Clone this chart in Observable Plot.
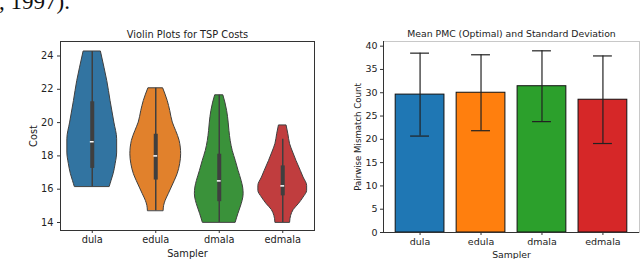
<!DOCTYPE html>
<html><head><meta charset="utf-8">
<script src="https://cdn.jsdelivr.net/npm/d3@7"></script>
<script src="https://cdn.jsdelivr.net/npm/@observablehq/plot@0.6"></script>
<style>
html,body{margin:0;padding:0;background:#fff;}
#wrap{position:relative;width:640px;height:259px;overflow:hidden;}
#left,#right,#cite{position:absolute;top:0;}
#left{left:0}
#right{left:320px}
</style></head><body>
<div id="wrap">
<div id="left"></div><div id="right"></div>
<svg id="cite" width="200" height="20" style="left:0"><text x="-1" y="9" font-family="Liberation Serif" font-size="23" fill="#111">, 1997).</text></svg>
</div>
<script>
const samplers = ["dula", "edula", "dmala", "edmala"];
const violinColors = ["#3274a1", "#e1812c", "#3a923a", "#c03d3e"];
const barColors = ["#1f77b4", "#ff7f0e", "#2ca02c", "#d62728"];

// violin outlines: cost grid and relative density (max = 1)
const dulaCost = [16.15, 16.5, 16.9, 17.5, 18.2, 19.0, 20.0, 21.3, 22.5, 23.3, 24.27];
const dulaDens = [0.69, 0.76, 0.84, 0.92, 0.98, 0.98, 0.87, 0.72, 0.59, 0.48, 0.34];
const edulaCost = [14.7, 15.0, 15.3, 15.7, 16.1, 16.5, 16.9, 17.5, 18.1, 18.9, 19.5, 20.0, 20.7, 21.3, 22.06];
const edulaDens = [0.31, 0.33, 0.39, 0.51, 0.63, 0.75, 0.86, 0.96, 1.0, 0.94, 0.80, 0.67, 0.57, 0.47, 0.29];
const dmalaCost = [14.0, 14.5, 14.9, 15.3, 15.7, 16.1, 16.5, 17.1, 17.7, 18.3, 18.9, 19.5, 20.0, 20.7, 21.2, 21.64];
const dmalaDens = [0.65, 0.75, 0.84, 0.92, 0.96, 0.94, 0.88, 0.76, 0.65, 0.53, 0.45, 0.40, 0.37, 0.31, 0.24, 0.16];
const edmalaCost = [14.0, 14.4, 14.75, 15.1, 15.5, 15.9, 16.2, 16.7, 17.1, 17.7, 18.2, 18.7, 19.3, 19.83];
const edmalaDens = [0.29, 0.33, 0.43, 0.63, 0.82, 0.96, 0.96, 0.82, 0.71, 0.54, 0.41, 0.29, 0.22, 0.15];

// inner box statistics
const whiskerLow = [16.15, 14.7, 14.0, 14.0];
const boxQ1 = [17.25, 16.55, 15.25, 15.6];
const medianCost = [18.85, 18.0, 16.5, 16.2];
const boxQ3 = [21.25, 19.3, 18.1, 17.4];
const whiskerHigh = [24.27, 22.06, 21.64, 19.0];

// bar chart
const pmcMean = [29.6, 30.0, 31.4, 28.5];
const pmcSd = [8.9, 8.15, 7.6, 9.4];

const costTicks = [14, 16, 18, 20, 22, 24];
const pmcTicks = [0, 5, 10, 15, 20, 25, 30, 35, 40];
const samplerIdx = [0, 1, 2, 3];

const leftTitle = "Violin Plots for TSP Costs";
const rightTitle = "Mean PMC (Optimal) and Standard Deviation";
const xLabel = "Sampler";
const leftYLabel = "Cost";
const rightYLabel = "Pairwise Mismatch Count";

const profiles = [[dulaCost, dulaDens], [edulaCost, edulaDens], [dmalaCost, dmalaDens], [edmalaCost, edmalaDens]];
const violinRows = profiles.flatMap(([c, d], i) => c.map((v, j) => ({sampler: samplers[i], i, cost: v, w: d[j]})));
const stats = samplers.map((s, i) => ({sampler: s, i, lo: whiskerLow[i], q1: boxQ1[i], med: medianCost[i], q3: boxQ3[i], hi: whiskerHigh[i]}));
const bars = samplers.map((s, i) => ({sampler: s, i, mean: pmcMean[i], sd: pmcSd[i]}));

const HALF = 0.4;
const txt = "#222";
const style = {fontFamily: "DejaVu Sans", fontSize: "9.8px", color: txt, background: "transparent", overflow: "visible"};

const left = Plot.plot({
  width: 320, height: 259,
  marginLeft: 60, marginRight: 6, marginTop: 41, marginBottom: 29,
  style,
  x: {domain: [-0.5, 3.5], axis: null},
  y: {domain: [13.52, 24.87], axis: null},
  color: {domain: samplers, range: violinColors},
  marks: [
    Plot.areaX(violinRows, {y: "cost", x1: d => d.i - d.w * HALF, x2: d => d.i + d.w * HALF, z: "sampler", fill: "sampler", stroke: "#3f3f3f", strokeWidth: 1, curve: "monotone-y"}),
    Plot.ruleX(stats, {x: "i", y1: "lo", y2: "hi", stroke: "#3f3f3f", strokeWidth: 1.5}),
    Plot.ruleX(stats, {x: "i", y1: "q1", y2: "q3", stroke: "#3f3f3f", strokeWidth: 4}),
    Plot.ruleY(stats, {y: "med", x1: d => d.i - 0.03, x2: d => d.i + 0.03, stroke: "white", strokeWidth: 1.5}),
    Plot.frame({stroke: "#333"}),
    Plot.axisX(samplerIdx, {tickFormat: i => samplers[i], tickSize: 3, tickPadding: 3, label: null, stroke: "#333", fontSize: 9.8}),
    Plot.axisY(costTicks, {tickSize: 3, tickPadding: 4, label: null, stroke: "#333", fontSize: 9.8}),
    Plot.text([leftTitle], {text: d => d, frameAnchor: "top", dy: -7, lineAnchor: "middle", fontSize: 9.8, fill: txt}),
    Plot.text([xLabel], {text: d => d, frameAnchor: "bottom", dy: 23, lineAnchor: "middle", fontSize: 9.8, fill: txt}),
    Plot.text([leftYLabel], {text: d => d, frameAnchor: "left", dx: -27, rotate: -90, textAnchor: "middle", lineAnchor: "middle", fontSize: 9.8, fill: txt})
  ]
});
document.getElementById("left").appendChild(left);

const right = Plot.plot({
  width: 320, height: 259,
  marginLeft: 63, marginRight: 1, marginTop: 41, marginBottom: 27,
  style,
  x: {domain: [-0.6, 3.6], axis: null},
  y: {domain: [0, 41], axis: null},
  color: {domain: samplers, range: barColors},
  marks: [
    Plot.rectY(bars, {x1: d => d.i - 0.4, x2: d => d.i + 0.4, y: "mean", fill: "sampler", stroke: "#111", strokeWidth: 1}),
    Plot.ruleX(bars, {x: "i", y1: d => d.mean - d.sd, y2: d => d.mean + d.sd, stroke: "#222", strokeWidth: 1.2}),
    Plot.ruleY(bars, {y: d => d.mean - d.sd, x1: d => d.i - 0.155, x2: d => d.i + 0.155, stroke: "#222", strokeWidth: 1.2}),
    Plot.ruleY(bars, {y: d => d.mean + d.sd, x1: d => d.i - 0.155, x2: d => d.i + 0.155, stroke: "#222", strokeWidth: 1.2}),
    Plot.frame({stroke: "#c8c8c8"}),
    Plot.ruleY([0], {stroke: "#333"}),
    Plot.ruleX([-0.6], {stroke: "#333"}),
    Plot.axisX(samplerIdx, {tickFormat: i => samplers[i], tickSize: 3, tickPadding: 3, label: null, stroke: "#333", fontSize: 9.5}),
    Plot.axisY(pmcTicks, {tickSize: 3, tickPadding: 3, label: null, stroke: "#333", fontSize: 9.5}),
    Plot.text([rightTitle], {text: d => d, frameAnchor: "top", dy: -7, lineAnchor: "middle", fontSize: 9.3, fill: txt}),
    Plot.text([xLabel], {text: d => d, frameAnchor: "bottom", dy: 23, lineAnchor: "middle", fontSize: 9.3, fill: txt}),
    Plot.text([rightYLabel], {text: d => d, frameAnchor: "left", dx: -25, rotate: -90, textAnchor: "middle", lineAnchor: "middle", fontSize: 8.6, fill: txt})
  ]
});
document.getElementById("right").appendChild(right);
</script>
</body></html>
